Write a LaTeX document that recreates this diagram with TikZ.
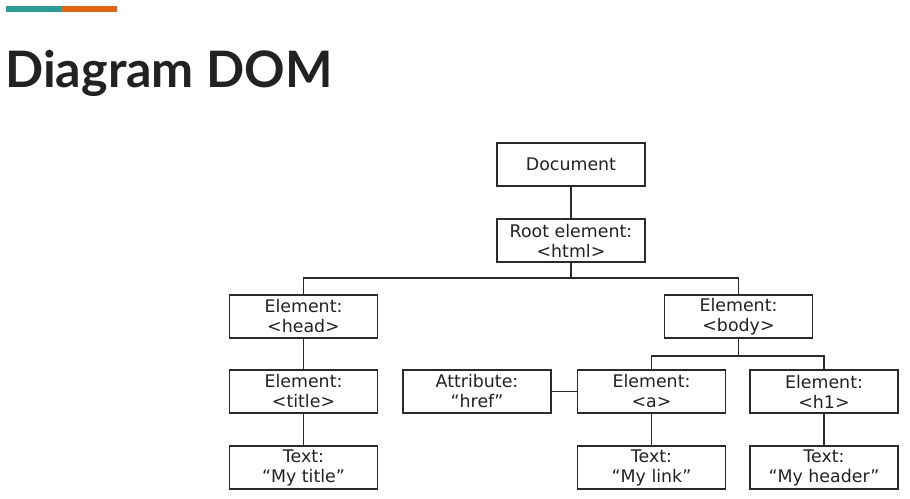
\documentclass[tikz,border=0pt]{standalone}
\usepackage{fontspec}
\setmainfont{DejaVu Sans}
\newfontfamily\titlefont{Lato}
\definecolor{barteal}{HTML}{2A9D96}
\definecolor{barorange}{HTML}{E6620F}
\definecolor{inkgray}{HTML}{222222}
\definecolor{boxgray}{HTML}{2B2B2B}
\tikzset{
  dombox/.style={draw=boxgray, line width=1pt, minimum width=2.96cm, minimum height=0.85cm,
    align=center, inner sep=0pt, font=\fontsize{9.9}{11.4}\selectfont, text=inkgray},
  domline/.style={boxgray, line width=1pt}
}

\begin{document}
\begin{tikzpicture}[x=0.02cm, y=-0.02cm]
  \useasboundingbox (0,0) rectangle (910,499);
  \fill[barteal] (6,6) rectangle (62,12);
  \fill[barorange] (62,6) rectangle (117,12);
  \node[anchor=base west, inner sep=0pt, text=inkgray, font=\titlefont\bfseries\fontsize{28.6}{32}\selectfont] (heading) at (5,88) {Diagram DOM};
  \node[dombox] (doc) at (571,164.5) {Document};
  \node[dombox] (root) at (571,240.5) {Root element:\\<html>};
  \node[dombox] (head) at (303.5,316.5) {Element:\\<head>};
  \node[dombox] (body) at (738.5,316.5) {Element:\\<body>};
  \node[dombox] (title) at (303.5,391.5) {Element:\\<title>};
  \node[dombox] (titletext) at (303.5,467.5) {Text:\\“My title”};
  \node[dombox] (attr) at (477,391.5) {Attribute:\\“href”};
  \node[dombox] (anchor) at (651.5,391.5) {Element:\\<a>};
  \node[dombox] (hone) at (824,391.5) {Element:\\<h1>};
  \node[dombox] (linktext) at (651.5,467.5) {Text:\\“My link”};
  \node[dombox] (headertext) at (824,467.5) {Text:\\“My header”};
  \coordinate (htmlbus) at (571,278);
  \coordinate (bodybus) at (738.5,356);
  \draw[domline] (doc) -- (root);
  \draw[domline] (root) -- (htmlbus);
  \draw[domline] (head.north) |- (htmlbus) -| (body.north);
  \draw[domline] (head) -- (title);
  \draw[domline] (title) -- (titletext);
  \draw[domline] (body) -- (bodybus);
  \draw[domline] (anchor.north) |- (bodybus) -| (hone.north);
  \draw[domline] (attr) -- (anchor);
  \draw[domline] (anchor) -- (linktext);
  \draw[domline] (hone) -- (headertext);
\end{tikzpicture}
\end{document}
